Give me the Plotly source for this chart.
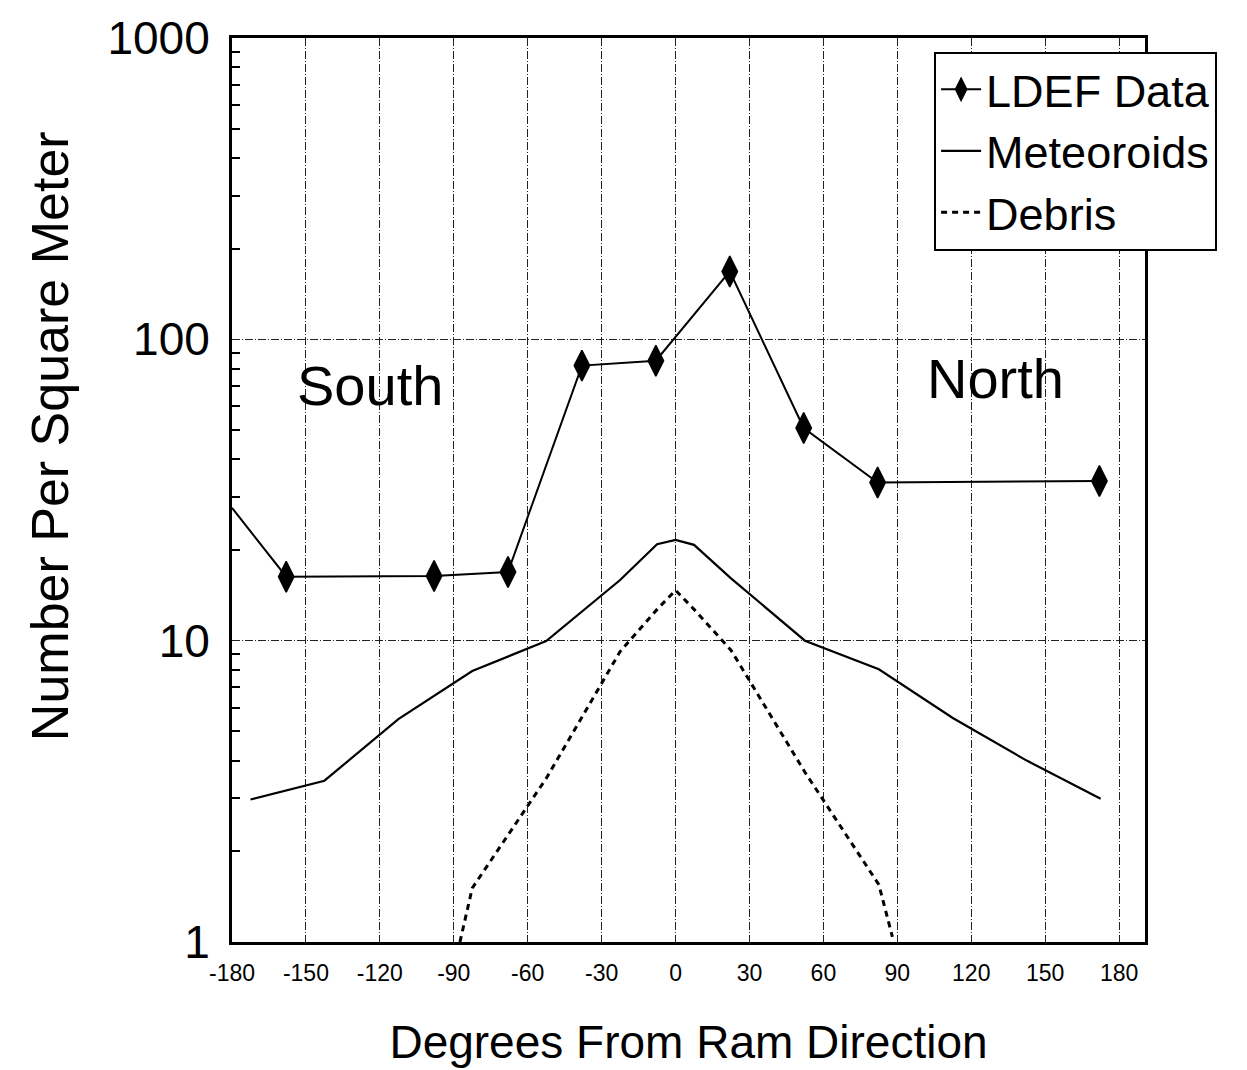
import plotly.graph_objects as go

# ---- data ----
ldef_deg = [-180, -158, -98, -68, -38, -8, 22, 52, 82, 172]
ldef_val = [27.6, 16.3, 16.4, 16.9, 81.8, 84.9, 168, 50.8, 33.5, 33.9]
ldef_marker = [0, 22, 22, 22, 22, 22, 22, 22, 22, 22]

met_deg = [-172.5, -142.5, -112.5, -82.5, -52.5, -22.5, -7.5, 0, 7.5, 22.5, 52.5, 82.5, 112.5, 142.5, 172.5]
met_val = [2.97, 3.43, 5.49, 7.93, 9.97, 15.9, 20.9, 21.6, 20.8, 16.1, 10.0, 8.04, 5.54, 4.0, 2.99]

deb_deg = [-87.5, -82.5, -52.5, -22.5, -7.5, 0, 7.5, 22.5, 52.5, 82.5, 88]
deb_val = [1.0, 1.51, 3.49, 9.2, 12.7, 14.7, 12.7, 9.3, 3.66, 1.55, 1.04]

x_ticks = [-180, -150, -120, -90, -60, -30, 0, 30, 60, 90, 120, 150, 180]
y_ticks = [1, 10, 100, 1000]
y_minor = [2, 3, 4, 5, 6, 7, 8, 9, 20, 30, 40, 50, 60, 70, 80, 90,
           200, 300, 400, 500, 600, 700, 800, 900]

FONT = "Arial, Liberation Sans, Helvetica, sans-serif"

fig = go.Figure()
fig.add_trace(go.Scatter(
    x=ldef_deg, y=ldef_val, name="LDEF Data", mode="lines+markers",
    line=dict(color="black", width=2),
    marker=dict(symbol="diamond-tall", size=ldef_marker, color="#000000", opacity=1,
                line=dict(color="#000000", width=1.5)),
))
fig.add_trace(go.Scatter(
    x=met_deg, y=met_val, name="Meteoroids", mode="lines",
    line=dict(color="black", width=2.2),
))
fig.add_trace(go.Scatter(
    x=deb_deg, y=deb_val, name="Debris", mode="lines",
    line=dict(color="black", width=3, dash="6px,5px"),
))

fig.add_annotation(x=-124, y=1.846, yref="y", text="South", showarrow=False,
                   font=dict(size=56, color="black", family=FONT))
fig.add_annotation(x=130, y=1.869, yref="y", text="North", showarrow=False,
                   font=dict(size=56, color="black", family=FONT))
fig.add_annotation(x=-0.2, y=0.56, xref="paper", yref="paper",
                   xanchor="center", yanchor="middle", textangle=-90,
                   text="Number Per Square Meter", showarrow=False,
                   font=dict(size=52, color="black", family=FONT))

grid_color = "#222222"
fig.update_xaxes(
    type="linear", range=[-180, 190.5],
    tickvals=x_ticks, ticktext=[str(v) for v in x_ticks],
    tickfont=dict(size=23, color="black", family=FONT),
    ticks="", ticklabelstandoff=8,
    showgrid=True, gridcolor=grid_color, gridwidth=1.2, griddash="8px,2px,1px,2px",
    showline=True, linecolor="black", linewidth=3, mirror=True,
    zeroline=False,
    title=dict(text="Degrees From Ram Direction", font=dict(size=46, color="black", family=FONT), standoff=42),
)
fig.update_yaxes(
    type="log", range=[0, 3],
    tickvals=y_ticks, ticktext=[str(v) for v in y_ticks],
    tickfont=dict(size=46, color="black", family=FONT),
    ticks="", ticklabelstandoff=10, ticklabeloverflow="allow",
    showgrid=True, gridcolor=grid_color, gridwidth=1.2, griddash="8px,2px,1px,2px",
    showline=True, linecolor="black", linewidth=3, mirror=True,
    zeroline=False,
    minor=dict(tickvals=y_minor, ticks="inside", ticklen=8, tickwidth=2,
               tickcolor="black", showgrid=False),
)

fig.update_layout(
    width=1247, height=1070,
    margin=dict(l=224, r=110, t=30, b=136, autoexpand=False),
    plot_bgcolor="white", paper_bgcolor="white",
    font=dict(family=FONT, color="black"),
    showlegend=True,
    legend=dict(
        x=0.769, y=0.985, xanchor="left", yanchor="top",
        font=dict(size=45, color="black", family=FONT),
        bgcolor="white", bordercolor="black", borderwidth=2,
        itemwidth=40, tracegroupgap=0,
    ),
)

fig.write_html("out.html")
